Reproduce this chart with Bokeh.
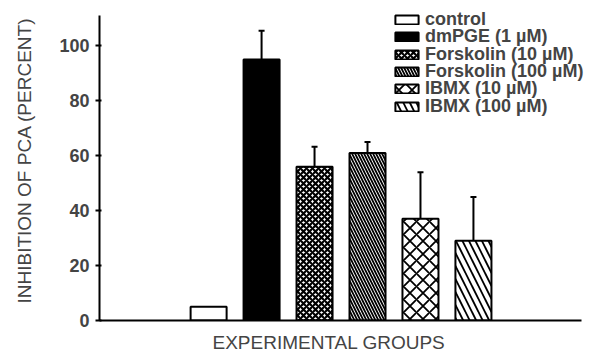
from bokeh.plotting import figure
from bokeh.models import (ColumnDataSource, Range1d, FixedTicker, Legend, LegendItem,
                          Whisker, TeeHead, Title)
from bokeh.embed import file_html
from bokeh.resources import INLINE

groups = ["control", "dmPGE (1 µM)", "Forskolin (10 µM)", "Forskolin (100 µM)",
          "IBMX (10 µM)", "IBMX (100 µM)"]
inhibition = [5, 95, 56, 61, 37, 29]
sem = [float("nan"), 10.5, 7.3, 4, 17, 16]
y_ticks = [0, 20, 40, 60, 80, 100]

fills = ["white", "black", "white", "white", "white", "white"]
hatches = [" ", " ", "diagonal_cross", "left_diagonal_line", "diagonal_cross", "left_diagonal_line"]
hatch_scales = [12, 12, 6, 6, 13, 13]
hatch_weights = [1, 1, 2.2, 1.8, 1.8, 1.8]

xs = list(range(len(groups)))
upper = [v + e for v, e in zip(inhibition, sem)]

# frame spans to the top and right canvas edges so the legend is not clipped;
# the axis lines are limited with bounds
p = figure(width=599, height=361, output_backend="svg", toolbar_location=None,
           x_range=Range1d(-2.06, 7.38), y_range=Range1d(0, 116.5),
           min_border_left=99, min_border_right=0, min_border_top=0, min_border_bottom=41)
p.outline_line_color = None
p.grid.visible = False
p.background_fill_color = "white"
p.border_fill_color = "white"

renderers = []
for i in xs:
    src = ColumnDataSource(dict(x=[xs[i]], top=[inhibition[i]]))
    r = p.vbar(x="x", top="top", bottom=0, width=0.68, source=src,
               fill_color=fills[i], line_color="black", line_width=2,
               hatch_pattern=hatches[i], hatch_color="black",
               hatch_scale=hatch_scales[i], hatch_weight=hatch_weights[i])
    renderers.append(r)

err_src = ColumnDataSource(dict(x=xs, lower=inhibition, upper=upper))
p.add_layout(Whisker(base="x", lower="lower", upper="upper", source=err_src,
                     line_width=2, line_color="black",
                     upper_head=TeeHead(size=6, line_width=2, line_color="black"),
                     lower_head=None))

# legend: one row per entry, rows 17.3 px apart (screen offsets from frame bottom-left)
row_y0 = 290
row_step = 17.3
for i in xs:
    lg = Legend(items=[LegendItem(label=groups[i], renderers=[renderers[i]])],
                location=(293, row_y0 - i * row_step), padding=0, margin=0,
                border_line_color=None, background_fill_alpha=0,
                glyph_width=29, glyph_height=11, label_height=11, spacing=0,
                label_standoff=4, label_text_font="Liberation Sans",
                label_text_font_size="18px", label_text_font_style="bold")
    p.add_layout(lg)

# y axis
p.yaxis.ticker = FixedTicker(ticks=y_ticks)
p.yaxis.bounds = (0, 111)
p.yaxis.minor_tick_line_color = None
p.yaxis.major_tick_out = 4
p.yaxis.major_tick_in = 2
p.yaxis.major_tick_line_width = 2
p.yaxis.axis_line_width = 2
p.yaxis.major_label_text_font = "Liberation Sans"
p.yaxis.major_label_text_font_size = "18px"
p.yaxis.major_label_text_font_style = "bold"
p.yaxis.major_label_standoff = 6
p.yaxis.axis_label = "INHIBITION OF PCA (PERCENT)"
p.yaxis.axis_label_text_font = "Liberation Sans"
p.yaxis.axis_label_text_font_size = "19px"
p.yaxis.axis_label_text_font_style = "normal"
p.yaxis.axis_label_standoff = 21

# x axis: line only
p.xaxis.ticker = FixedTicker(ticks=[])
p.xaxis.bounds = (-2.06, 7.04)
p.xaxis.axis_line_width = 2
p.xaxis.major_tick_out = 0
p.xaxis.major_tick_in = 0
p.xaxis.major_label_standoff = 0
p.xaxis.minor_tick_line_color = None

# x axis title, centred under the axis line rather than the (wider) frame
p.add_layout(Title(text="EXPERIMENTAL GROUPS", align="left", offset=113, standoff=18,
                   text_font="Liberation Sans", text_font_size="19px",
                   text_font_style="normal"), "below")

open("out.html", "w").write(file_html(p, INLINE))
